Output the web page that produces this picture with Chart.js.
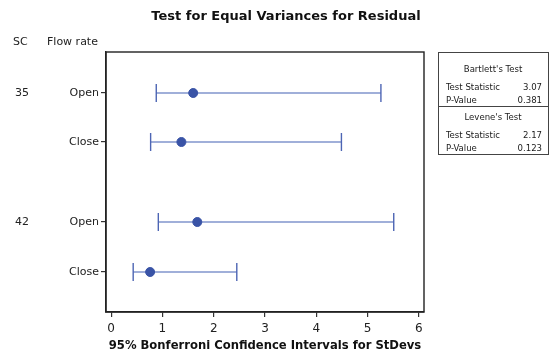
<!DOCTYPE html>
<html>
<head>
<meta charset="utf-8">
<script src="https://cdn.jsdelivr.net/npm/chart.js@4.4.0/dist/chart.umd.min.js"></script>
<style>
  html, body { margin: 0; padding: 0; background: #fff; }
  #wrap { width: 550px; height: 353px; }
</style>
</head>
<body>
<div id="wrap"><canvas id="evChart" width="550" height="353"></canvas></div>
<script>
// data
const scGroups = ['35', '35', '42', '42'];
const flowRates = ['Open', 'Close', 'Open', 'Close'];
const stDevs = [1.60, 1.37, 1.68, 0.76];
const lowerCI = [0.88, 0.77, 0.92, 0.43];
const upperCI = [5.26, 4.49, 5.51, 2.45];
const rowPos = [0.82, 1.8, 3.4, 4.4];
const xTicks = [0, 1, 2, 3, 4, 5, 6];

const bartlett = { stat: '3.07', p: '0.381' };
const levene = { stat: '2.17', p: '0.123' };

const FONT = "'DejaVu Sans', sans-serif";
const BOX_FONT = "'DejaVu Sans Condensed', 'Liberation Sans', sans-serif";
const dotColor = '#3953a6';
const barColor = '#8194cd';
const capColor = '#4d65b4';

const datasets = [];
rowPos.forEach((y, i) => {
    datasets.push({
        type: 'line',
        data: [{ x: lowerCI[i], y: y }, { x: upperCI[i], y: y }],
        borderColor: barColor,
        borderWidth: 1.6,
        pointStyle: 'line',
        rotation: 90,
        pointRadius: 9,
        pointBorderColor: capColor,
        pointBorderWidth: 1.4,
        order: 2
    });
});
datasets.push({
    type: 'scatter',
    data: stDevs.map((v, i) => ({ x: v, y: rowPos[i] })),
    backgroundColor: dotColor,
    borderColor: dotColor,
    pointRadius: 4.5,
    order: 1
});

const decorPlugin = {
    id: 'decor',
    afterDraw(chart) {
        const c = chart.ctx;
        const area = chart.chartArea;
        const yScale = chart.scales.y;
        c.save();
        // frame round the plot
        c.strokeStyle = '#222';
        c.lineWidth = 1.4;
        c.strokeRect(area.left, area.top, area.right - area.left, area.bottom - area.top);

        // title
        c.fillStyle = '#111';
        c.font = 'bold 13px ' + FONT;
        c.textAlign = 'center';
        c.textBaseline = 'middle';
        c.fillText('Test for Equal Variances for Residual', 286, 17);

        // column headers
        c.font = '11px ' + FONT;
        c.fillStyle = '#222';
        c.textAlign = 'left';
        c.fillText('SC', 13, 42);
        c.fillText('Flow rate', 47, 42);

        // SC group labels, one per group on its first row
        c.textAlign = 'center';
        scGroups.forEach((g, i) => {
            if (i > 0 && scGroups[i - 1] === g) return;
            c.fillText(g, 22, yScale.getPixelForValue(rowPos[i]));
        });

        // test results box
        const bx = 438, by = 52, bw = 110, bh = 102;
        c.strokeStyle = '#444';
        c.lineWidth = 1;
        c.strokeRect(bx + 0.5, by + 0.5, bw, bh);
        c.beginPath();
        c.moveTo(bx, by + 54.5);
        c.lineTo(bx + bw, by + 54.5);
        c.stroke();

        c.font = '9.5px ' + BOX_FONT;
        c.fillStyle = '#1a1a1a';
        const block = (name, res, top) => {
            c.textAlign = 'center';
            c.fillText(name, bx + bw / 2, top + 18);
            c.textAlign = 'left';
            c.fillText('Test Statistic', bx + 8, top + 36);
            c.fillText('P-Value', bx + 8, top + 49);
            c.textAlign = 'right';
            c.fillText(res.stat, bx + bw - 6, top + 36);
            c.fillText(res.p, bx + bw - 6, top + 49);
        };
        block("Bartlett's Test", bartlett, by);
        block("Levene's Test", levene, by + 48);
        c.restore();
    }
};

new Chart(document.getElementById('evChart'), {
    data: { datasets: datasets },
    options: {
        responsive: false,
        animation: false,
        layout: { padding: { top: 52, right: 126, left: 0, bottom: 0 } },
        plugins: { legend: { display: false }, tooltip: { enabled: false }, title: { display: false } },
        scales: {
            x: {
                type: 'linear',
                min: -0.1,
                max: 6.1,
                afterBuildTicks: (scale) => { scale.ticks = xTicks.map(v => ({ value: v })); },
                afterFit: (scale) => { scale.height = 41; },
                grid: { drawOnChartArea: false, drawTicks: true, tickLength: 5, color: '#333', lineWidth: 1.2 },
                border: { display: true, color: '#222', width: 1.4 },
                ticks: { color: '#222', font: { family: FONT, size: 12 }, padding: 5, maxRotation: 0 },
                title: {
                    display: true,
                    text: '95% Bonferroni Confidence Intervals for StDevs',
                    color: '#111',
                    font: { family: FONT, size: 11.6, weight: 'bold' },
                    padding: { top: 0, bottom: 0 }
                }
            },
            y: {
                type: 'linear',
                reverse: true,
                min: 0,
                max: 5.2,
                afterBuildTicks: (scale) => { scale.ticks = rowPos.map(v => ({ value: v })); },
                afterFit: (scale) => { scale.width = 106; },
                grid: { drawOnChartArea: false, drawTicks: true, tickLength: 5, color: '#333', lineWidth: 1.2 },
                border: { display: true, color: '#222', width: 1.4 },
                ticks: {
                    color: '#222',
                    font: { family: FONT, size: 11 },
                    padding: 2,
                    autoSkip: false,
                    callback: (v, i) => flowRates[i]
                }
            }
        }
    },
    plugins: [decorPlugin]
});
</script>
</body>
</html>
